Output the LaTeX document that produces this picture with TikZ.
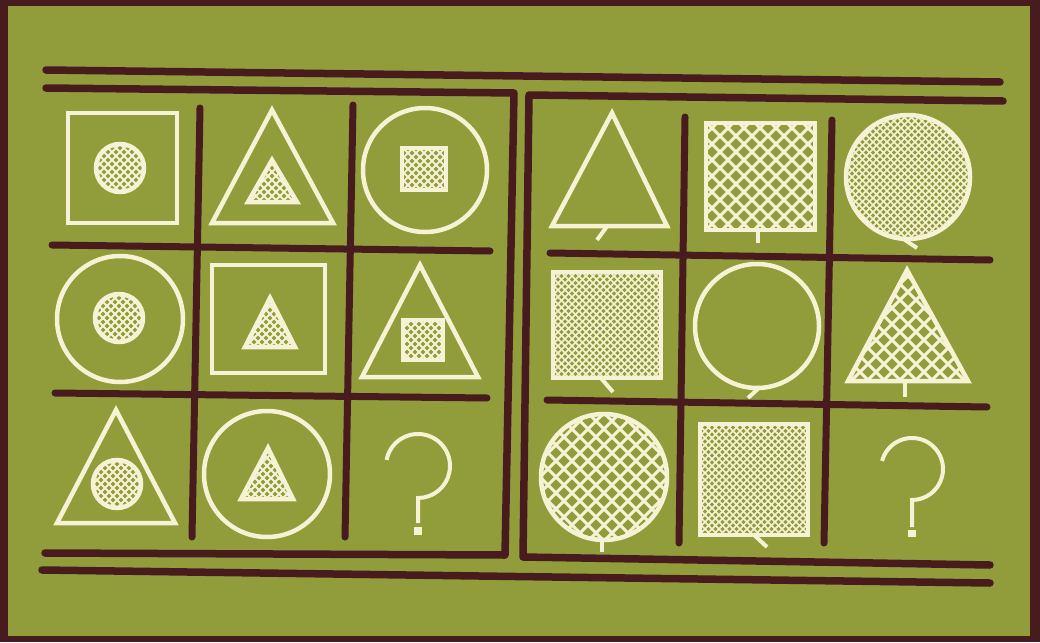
\documentclass[tikz,border=0pt]{standalone}
\usepackage{tikz}
\usetikzlibrary{calc}
\definecolor{cardBg}{RGB}{145,157,58}
\definecolor{cardInk}{RGB}{72,28,30}
\definecolor{cardChalk}{RGB}{246,242,214}
\tikzset{
  frameline/.style={draw=cardInk, line width=7.5, line cap=round, line join=round},
  gridline/.style={draw=cardInk, line width=7, line cap=round},
  figline/.style={draw=cardChalk, line width=4.5, line join=miter},
  tailline/.style={draw=cardChalk, line width=4},
  qline/.style={draw=cardChalk, line width=4},
}
%% white diagonal mesh round the origin: #1 = period, #2 = line width
\newcommand{\meshlines}[2]{%
  \foreach \k in {-24,...,24}
    \draw[cardChalk, line width=#2] (\k*#1-80,-80) -- (\k*#1+80,80) (\k*#1-80,80) -- (\k*#1+80,-80);}
%% clip a path, mesh it, outline it
\newcommand{\meshed}[3]{%
  \begin{scope}\clip #1; \meshlines{#2}{#3}\end{scope}
  \draw[figline] #1;}
\begin{document}
\begin{tikzpicture}[x=1pt, y=-1pt]
\useasboundingbox (0,0) rectangle (1040,642);
\fill[cardInk] (0,0) rectangle (1040,642);
\fill[cardBg] (8,6) rectangle (1030,636);

%% frames
\draw[frameline] (46,70) -- (1000,82);
\draw[frameline] (46,88) -- (514,93) -- (505,555) -- (45,553);
\draw[frameline] (1003,101) -- (529,95) -- (523,557) -- (990,565);
\draw[frameline] (42,570) -- (990,583);

%% grid, left panel
\draw[gridline] (200,108) -- (192,537);
\draw[gridline] (353,105) -- (345,537);
\draw[gridline] (52,245) -- (490,251);
\draw[gridline] (55,393) -- (487,398);
%% grid, right panel
\draw[gridline] (685,117) -- (679,543);
\draw[gridline] (832,120) -- (824,543);
\draw[gridline] (550,253) -- (990,260);
\draw[gridline] (547,400) -- (987,407);

%% left panel: outer figures
\draw[figline] (68,113) rectangle (177,223);
\draw[figline] (272,110) -- (333,223) -- (212,223) -- cycle;
\draw[figline] (425,170) circle (62pt);
\draw[figline] (120,319) circle (63pt);
\draw[figline] (212,265) rectangle (325,373);
\draw[figline] (420,265) -- (478,377) -- (362,377) -- cycle;
\draw[figline] (116,410) -- (175,523) -- (57,523) -- cycle;
\draw[figline] (267,474) circle (63pt);

%% left panel: inner figures
\begin{scope}[shift={(120,168)}] \meshed{(0,0) circle (24pt)}{8}{1.8} \end{scope}
\begin{scope}[shift={(272,188)}] \meshed{(0,-28) -- (25,14) -- (-24,14) -- cycle}{8}{1.8} \end{scope}
\begin{scope}[shift={(424,169)}] \meshed{(-22,-21) rectangle (22,21)}{8}{1.8} \end{scope}
\begin{scope}[shift={(119,318)}] \meshed{(0,0) circle (24pt)}{8}{1.8} \end{scope}
\begin{scope}[shift={(270,330)}] \meshed{(0,-32) -- (25,17) -- (-25,17) -- cycle}{8}{1.8} \end{scope}
\begin{scope}[shift={(423,340)}] \meshed{(-20,-20) rectangle (20,20)}{8}{1.8} \end{scope}
\begin{scope}[shift={(117,484)}] \meshed{(0,0) circle (24pt)}{8}{1.8} \end{scope}
\begin{scope}[shift={(267,482)}] \meshed{(1,-34) -- (26,17) -- (-26,17) -- cycle}{8}{1.8} \end{scope}

%% left panel: question
\begin{scope}[shift={(418,466)}]
  \draw[qline] (169:32pt) arc[start angle=169, end angle=-90, radius=32pt] -- (0,57);
  \fill[cardChalk] (-4,61) rectangle (4,69);
\end{scope}

%% right panel: row 1
\draw[figline] (612,113) -- (667,226) -- (552,226) -- cycle;
\draw[tailline] (608,225) -- (597,240);
\begin{scope}[shift={(760,176)}] \meshed{(-54,-53) rectangle (55,54)}{16}{3} \end{scope}
\draw[tailline] (758,229) -- (758,243);
\begin{scope}[shift={(908,177)}] \meshed{(0,0) circle (62pt)}{7}{1.5} \end{scope}
\draw[tailline] (902,238) -- (917,248);

%% right panel: row 2
\begin{scope}[shift={(607,325)}] \meshed{(-54,-53) rectangle (54,53)}{7}{1.5} \end{scope}
\draw[tailline] (600,377) -- (613,392);
\draw[figline] (757,326) circle (62pt);
\draw[tailline] (760,387) -- (748,398);
\begin{scope}[shift={(908,340)}] \meshed{(-1,-70) -- (60,41) -- (-60,41) -- cycle}{16}{3} \end{scope}
\draw[tailline] (905,380) -- (905,397);

%% right panel: row 3
\begin{scope}[shift={(604,477)}] \meshed{(0,0) circle (63pt)}{16}{3} \end{scope}
\draw[tailline] (602,539) -- (602,552);
\begin{scope}[shift={(754,480)}] \meshed{(-54,-56) rectangle (54,55)}{7}{1.5} \end{scope}
\draw[tailline] (753,534) -- (767,547);
\begin{scope}[shift={(912,469)}]
  \draw[qline] (165:31pt) arc[start angle=165, end angle=-90, radius=31pt] -- (0,58);
  \fill[cardChalk] (-4,61) rectangle (4,68);
\end{scope}
\end{tikzpicture}
\end{document}
